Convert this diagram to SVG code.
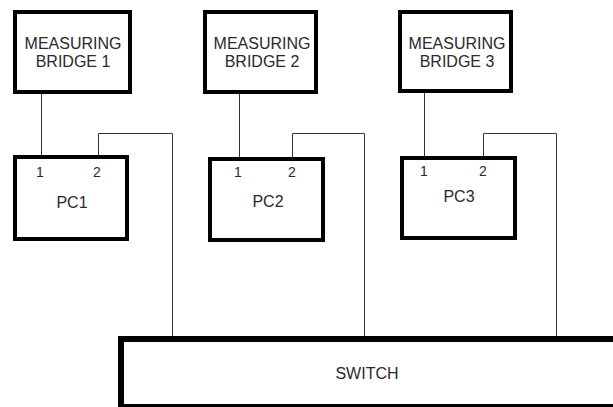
<svg xmlns="http://www.w3.org/2000/svg" width="613" height="407" viewBox="0 0 613 407">
<style>
.box{fill:#fff;stroke:#000;stroke-width:4}
.sw{fill:#fff;stroke:#000;stroke-width:6}
.wire{fill:none;stroke:#333;stroke-width:1}
text{font-family:"Liberation Sans",Arial,sans-serif;fill:#2a2a2a;text-anchor:middle}
.lbl{font-size:16px}
.port{font-size:14px}
</style>
<rect width="613" height="407" fill="#fff"/>
<g id="connectors">
<path class="wire" d="M41.5 94V157"/>
<path class="wire" d="M98.5 157V133.5H172.5V338"/>
<path class="wire" d="M239.5 94V159"/>
<path class="wire" d="M292.5 159V133.5H364.5V338"/>
<path class="wire" d="M424.5 93V158"/>
<path class="wire" d="M483.5 158V133.5H556.5V338"/>
</g>
<g id="bridge1">
<rect class="box" x="15" y="12" width="115" height="80"/>
<text class="lbl" x="73" y="49">MEASURING</text>
<text class="lbl" x="73" y="67">BRIDGE 1</text>
</g>
<g id="bridge2">
<rect class="box" x="205" y="12" width="111" height="80"/>
<text class="lbl" x="262" y="49">MEASURING</text>
<text class="lbl" x="262" y="67">BRIDGE 2</text>
</g>
<g id="bridge3">
<rect class="box" x="400" y="12" width="111" height="79"/>
<text class="lbl" x="457" y="49">MEASURING</text>
<text class="lbl" x="457" y="67">BRIDGE 3</text>
</g>
<g id="pc1">
<rect class="box" x="15" y="157" width="112" height="82"/>
<text class="port" x="40" y="177">1</text>
<text class="port" x="97" y="177">2</text>
<text class="lbl" x="72" y="208">PC1</text>
</g>
<g id="pc2">
<rect class="box" x="210" y="159" width="113" height="81"/>
<text class="port" x="238" y="177">1</text>
<text class="port" x="292" y="177">2</text>
<text class="lbl" x="268" y="207">PC2</text>
</g>
<g id="pc3">
<rect class="box" x="402" y="158" width="113" height="80"/>
<text class="port" x="424" y="176">1</text>
<text class="port" x="483" y="176">2</text>
<text class="lbl" x="459" y="202">PC3</text>
</g>
<g id="switch">
<rect class="sw" x="121" y="339" width="600" height="68"/>
<text class="lbl" x="367" y="379">SWITCH</text>
</g>
</svg>
